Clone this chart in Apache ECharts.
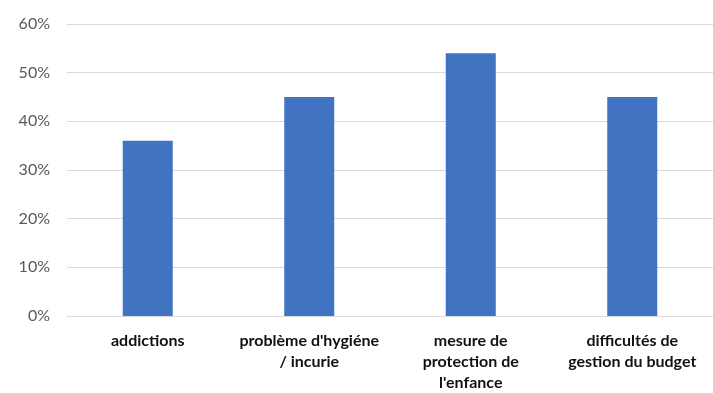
<!DOCTYPE html>
<html>
<head>
<meta charset="utf-8">
<script src="https://cdn.jsdelivr.net/npm/echarts@6/dist/echarts.min.js"></script>
<style>html,body{margin:0;padding:0;background:#fff;}#c{width:713px;height:393px;}</style>
</head>
<body>
<div id="c"></div>
<script>
const categories = ["addictions", "problème d'hygiéne\n/ incurie", "mesure de\nprotection de\nl'enfance", "difficultés de\ngestion du budget"];
const values = [36, 45, 54, 45];
const yTicks = { min: 0, max: 60, interval: 10 };

const chart = echarts.init(document.getElementById('c'), null, { renderer: 'canvas' });
chart.setOption({
  animation: false,
  backgroundColor: '#ffffff',
  grid: { left: 67, right: -3, top: 24, bottom: 76 },
  xAxis: {
    type: 'category',
    data: categories,
    axisLine: { show: true, lineStyle: { color: '#d9d9d9', width: 1 } },
    axisTick: { show: false },
    axisLabel: {
      color: '#111111', fontFamily: 'Lato', fontWeight: 'bold', fontSize: 16,
      lineHeight: 21, margin: 14, interval: 0
    }
  },
  yAxis: {
    type: 'value',
    min: yTicks.min, max: yTicks.max, interval: yTicks.interval,
    axisLine: { show: false },
    axisTick: { show: false },
    splitLine: { lineStyle: { color: '#d9d9d9', width: 1 } },
    axisLabel: {
      color: '#595959', fontFamily: 'Lato', fontSize: 16, margin: 17,
      formatter: v => v + '%'
    }
  },
  series: [{
    type: 'bar',
    data: values,
    barWidth: 50,
    itemStyle: { color: '#4073c1' }
  }]
});
</script>
</body>
</html>
